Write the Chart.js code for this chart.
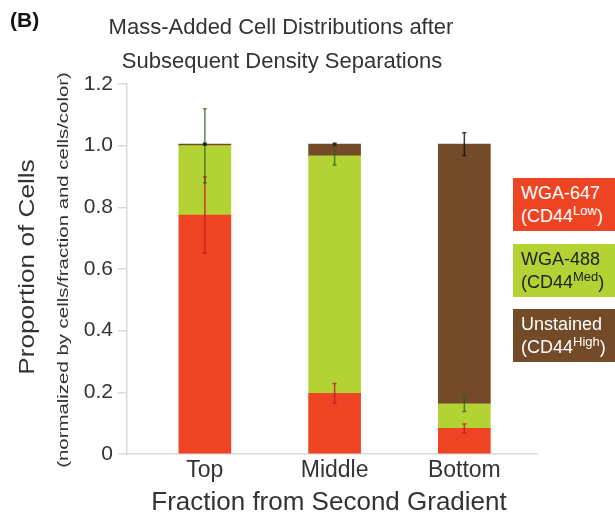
<!DOCTYPE html>
<html>
<head>
<meta charset="utf-8">
<script src="https://cdn.jsdelivr.net/npm/chart.js@4.4.1/dist/chart.umd.min.js"></script>
<style>
    html, body { margin: 0; padding: 0; background: #fff; }
    #wrap { position: relative; width: 615px; height: 519px; }
    .key {
        position: absolute; left: 513px; width: 102px; height: 53px;
        font-family: "Liberation Sans", Arial, sans-serif; font-size: 18px;
        line-height: 23px; padding: 4px 0 0 8px; box-sizing: border-box;
    }
    .key sup { font-size: 13px; vertical-align: 7px; line-height: 0; }
</style>
</head>
<body>
<div id="wrap">
    <canvas id="chart" width="615" height="519"></canvas>
    <div class="key" style="top:178px;background:#ee4423;color:#fff;">WGA-647<br>(CD44<sup>Low</sup>)</div>
    <div class="key" style="top:244px;background:#b3d335;color:#222;">WGA-488<br>(CD44<sup>Med</sup>)</div>
    <div class="key" style="top:309px;background:#734b29;color:#fff;">Unstained<br>(CD44<sup>High</sup>)</div>
</div>
<script>
// Data
const categories = ['Top', 'Middle', 'Bottom'];
const lowValues = [0.775, 0.197, 0.083];     // WGA-647 (red)
const medValues = [0.225, 0.770, 0.080];     // WGA-488 (green)
const highValues = [0.005, 0.038, 0.842];    // Unstained (brown)
const lowErr = [0.123, 0.032, 0.014];
const medErr = [0.120, 0.030, 0.025];
const highErr = [0.003, 0.003, 0.037];
const yTicks = [0, 0.2, 0.4, 0.6, 0.8, 1.0, 1.2];

const FONT = '"Liberation Sans", Arial, sans-serif';
const TEXT = '#333';

const series = [
    { label: 'WGA-647', values: lowValues, err: lowErr, color: '#ee4423', errColor: 'rgba(190,30,30,0.85)' },
    { label: 'WGA-488', values: medValues, err: medErr, color: '#b3d335', errColor: 'rgba(50,90,30,0.75)' },
    { label: 'Unstained', values: highValues, err: highErr, color: '#734b29', errColor: 'rgba(20,20,20,0.85)' }
];

// Error bars at the top of each stacked segment
const errorBars = {
    id: 'errorBars',
    afterDatasetsDraw(chart) {
        const { ctx, scales } = chart;
        const cum = [0, 0, 0];
        series.forEach(s => {
            s.values.forEach((v, i) => {
                cum[i] += v;
                const x = scales.x.getPixelForValue(i);
                const yHi = scales.y.getPixelForValue(cum[i] + s.err[i]);
                const yLo = scales.y.getPixelForValue(cum[i] - s.err[i]);
                ctx.save();
                ctx.strokeStyle = s.errColor;
                ctx.lineWidth = 1.5;
                ctx.beginPath();
                ctx.moveTo(x, yHi); ctx.lineTo(x, yLo);
                ctx.moveTo(x - 2, yHi); ctx.lineTo(x + 2, yHi);
                ctx.moveTo(x - 2, yLo); ctx.lineTo(x + 2, yLo);
                ctx.stroke();
                ctx.restore();
            });
        });
    }
};

// Titles and labels
const labels = {
    id: 'labels',
    afterDraw(chart) {
        const { ctx } = chart;
        ctx.save();
        ctx.fillStyle = '#111';
        ctx.textBaseline = 'middle';
        ctx.textAlign = 'left';
        ctx.font = 'bold 21px ' + FONT;
        ctx.fillText('(B)', 10, 21);

        ctx.fillStyle = TEXT;
        ctx.textAlign = 'center';
        ctx.font = '22px ' + FONT;
        ctx.fillText('Mass-Added Cell Distributions after', 281, 28);
        ctx.fillText('Subsequent Density Separations', 282, 62);
        ctx.font = '26px ' + FONT;
        ctx.fillText('Fraction from Second Gradient', 329, 503);

        // rotated y titles, stretched along their length like the source figure
        ctx.save();
        ctx.translate(28, 267);
        ctx.rotate(-Math.PI / 2);
        ctx.scale(1.19, 1);
        ctx.font = '22px ' + FONT;
        ctx.fillText('Proportion of Cells', 0, 0);
        ctx.restore();

        ctx.save();
        ctx.translate(64, 270);
        ctx.rotate(-Math.PI / 2);
        ctx.scale(1.36, 1);
        ctx.font = '15px ' + FONT;
        ctx.fillText('(normalized by cells/fraction and cells/color)', 0, 0);
        ctx.restore();
        ctx.restore();
    }
};

new Chart(document.getElementById('chart').getContext('2d'), {
    type: 'bar',
    data: {
        datasets: series.map(s => ({
            label: s.label,
            data: s.values.map((v, i) => ({ x: i, y: v })),
            backgroundColor: s.color,
            borderWidth: 0,
            barThickness: 52
        }))
    },
    options: {
        responsive: false,
        animation: false,
        plugins: { legend: { display: false }, tooltip: { enabled: false } },
        layout: { padding: { top: 84, right: 78, bottom: 0, left: 0 } },
        scales: {
            x: {
                type: 'linear',
                stacked: true,
                offset: false,
                min: -0.6,
                max: 2.56,
                afterBuildTicks: scale => { scale.ticks = categories.map((_, i) => ({ value: i })); },
                afterFit: scale => { scale.height = 65; },
                grid: { display: false, offset: false },
                border: { color: '#d9d9d9', width: 1.5 },
                ticks: {
                    callback: v => categories[v],
                    color: TEXT,
                    font: { family: FONT, size: 23 },
                    padding: -5,
                    maxRotation: 0
                }
            },
            y: {
                stacked: true,
                min: 0,
                max: 1.2,
                afterBuildTicks: scale => { scale.ticks = yTicks.map(v => ({ value: v })); },
                afterFit: scale => { scale.width = 127; },
                grid: { drawOnChartArea: false, color: '#d9d9d9', lineWidth: 1.5, tickLength: 9 },
                border: { color: '#d9d9d9', width: 1.5 },
                ticks: {
                    callback: v => v === 0 ? '0' : v.toFixed(1),
                    color: TEXT,
                    font: { family: FONT, size: 21 },
                    padding: 5
                }
            }
        }
    },
    plugins: [errorBars, labels]
});
</script>
</body>
</html>
